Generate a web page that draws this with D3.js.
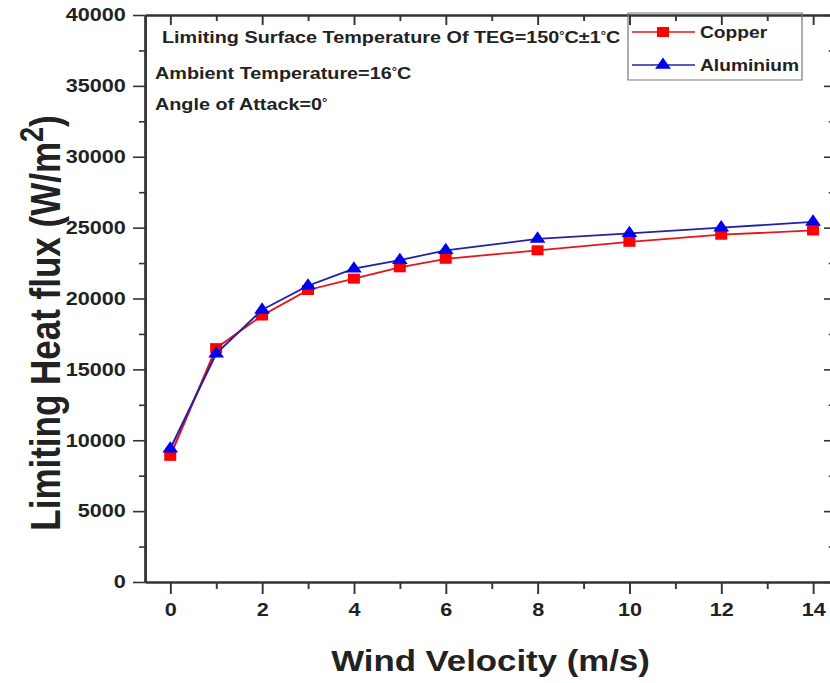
<!DOCTYPE html>
<html lang="en">
<head>
  <meta charset="UTF-8">
  <title>Limiting Heat flux vs Wind Velocity</title>
  <script src="https://d3js.org/d3.v7.min.js"></script>
  <style>
    body {
      margin: 0;
      background: #fff;
    }

    svg text {
      font-family: "Liberation Sans", Arial, sans-serif;
      font-weight: bold;
      fill: #222;
    }

    .axis path,
    .axis line {
      stroke: #333;
    }

    .axis path {
      stroke-width: 2px;
    }

    .axis line {
      stroke-width: 1.6px;
    }
  </style>
</head>
<body>
  <div id="chart"></div>

  <script>
    // data
    const windVelocity = [0, 1, 2, 3, 4, 5, 6, 8, 10, 12, 14];
    const copper = [8900, 16500, 18800, 20600, 21400, 22200, 22800, 23400, 24000, 24500, 24800];
    const aluminium = [9400, 16100, 19200, 20900, 22100, 22700, 23400, 24200, 24600, 25000, 25400];

    const xMajor = [0, 2, 4, 6, 8, 10, 12, 14];
    const xMinor = [1, 3, 5, 7, 9, 11, 13];
    const yMajor = [0, 5000, 10000, 15000, 20000, 25000, 30000, 35000, 40000];
    const yMinor = [2500, 7500, 12500, 17500, 22500, 27500, 32500, 37500];

    const notes = [
      ["Limiting Surface Temperature Of TEG=150", "°", "C±1", "°", "C"],
      ["Ambient Temperature=16", "°", "C"],
      ["Angle of Attack=0", "°"]
    ];

    const series = [
      { name: "Copper", values: copper, line: "#e8161c", fill: "#ff0000", symbol: d3.symbolSquare, size: 100 },
      { name: "Aluminium", values: aluminium, line: "#2222a8", fill: "#0000ee", symbol: d3.symbolTriangle, size: 75 }
    ];

    // the original picture is stretched horizontally, so draw in a narrower
    // coordinate space and let the svg stretch it
    const S = 1.2;
    const width = 830 / S;
    const height = 683;

    const svg = d3.select("#chart")
      .append("svg")
      .attr("width", 830)
      .attr("height", 683)
      .attr("viewBox", `0 0 ${width} ${height}`)
      .attr("preserveAspectRatio", "none");

    const plotLeft = 145 / S, plotRight = 836 / S, plotTop = 15, plotBottom = 582;

    const x = d3.scaleLinear().domain([-0.55, 14.5]).range([plotLeft, plotRight]);
    const y = d3.scaleLinear().domain([0, 40000]).range([plotBottom, plotTop]);

    // axes
    const gx = svg.append("g")
      .attr("class", "axis")
      .attr("transform", `translate(0,${plotBottom})`);
    gx.call(d3.axisBottom(x).tickValues(xMajor).tickSize(12).tickSizeOuter(0).tickPadding(9));
    gx.selectAll("text").style("font-size", "18px");

    svg.append("g")
      .attr("class", "axis")
      .attr("transform", `translate(0,${plotBottom})`)
      .call(d3.axisBottom(x).tickValues(xMinor).tickSize(7).tickSizeOuter(0).tickFormat(""));

    const gy = svg.append("g")
      .attr("class", "axis")
      .attr("transform", `translate(${plotLeft},0)`);
    gy.call(d3.axisLeft(y).tickValues(yMajor).tickSize(10).tickSizeOuter(0).tickPadding(6).tickFormat(d3.format("d")));
    gy.selectAll("text").style("font-size", "18px");

    svg.append("g")
      .attr("class", "axis")
      .attr("transform", `translate(${plotLeft},0)`)
      .call(d3.axisLeft(y).tickValues(yMinor).tickSize(5).tickSizeOuter(0).tickFormat(""));

    // top and right: inward ticks, no labels
    svg.append("g")
      .attr("class", "axis")
      .attr("transform", `translate(0,${plotTop})`)
      .call(d3.axisTop(x).tickValues(xMajor).tickSize(-10).tickSizeOuter(0).tickFormat(""));
    svg.append("g")
      .attr("class", "axis")
      .attr("transform", `translate(0,${plotTop})`)
      .call(d3.axisTop(x).tickValues(xMinor).tickSize(-6).tickSizeOuter(0).tickFormat(""));

    svg.append("g")
      .attr("class", "axis")
      .attr("transform", `translate(${plotRight},0)`)
      .call(d3.axisRight(y).tickValues(yMajor).tickSize(-10).tickSizeOuter(0).tickFormat(""));
    svg.append("g")
      .attr("class", "axis")
      .attr("transform", `translate(${plotRight},0)`)
      .call(d3.axisRight(y).tickValues(yMinor).tickSize(-6).tickSizeOuter(0).tickFormat(""));

    // axis titles
    svg.append("text")
      .attr("x", (plotLeft + plotRight) / 2)
      .attr("y", 671)
      .attr("text-anchor", "middle")
      .style("font-size", "29px")
      .text("Wind Velocity (m/s)");

    const yTitle = svg.append("text")
      .attr("transform", `translate(${60 / S},323) rotate(-90)`)
      .attr("text-anchor", "middle")
      .style("font-size", "35px");
    yTitle.append("tspan").text("Limiting Heat flux (W/m");
    yTitle.append("tspan").attr("dy", -14).style("font-size", "27px").text("2");
    yTitle.append("tspan").attr("dy", 14).text(")");

    // lines and markers
    const line = d3.line()
      .x((d, i) => x(windVelocity[i]))
      .y(d => y(d));

    series.forEach(s => {
      svg.append("path")
        .attr("d", line(s.values))
        .attr("fill", "none")
        .attr("stroke", s.line)
        .attr("stroke-width", 1.8);

      svg.selectAll(null)
        .data(s.values)
        .enter()
        .append("path")
        .attr("transform", (d, i) => `translate(${x(windVelocity[i])},${y(d)})`)
        .attr("d", d3.symbol().type(s.symbol).size(s.size))
        .attr("fill", s.fill);
    });

    // annotations
    const noteX = [162 / S, 155 / S, 155 / S];
    const noteY = [39, 75, 106];
    notes.forEach((parts, k) => {
      const t = svg.append("text")
        .attr("x", noteX[k])
        .attr("y", noteY[k])
        .style("font-size", "16.5px");
      parts.forEach(p => {
        if (p === "°") {
          t.append("tspan").attr("dy", -4).style("font-size", "11px").text(p);
        } else {
          t.append("tspan").attr("dy", t.selectAll("tspan").size() ? 4 : 0).text(p);
        }
      });
    });

    // legend
    const legend = svg.append("g");
    legend.append("rect")
      .attr("x", 628 / S)
      .attr("y", 13)
      .attr("width", 174 / S)
      .attr("height", 67)
      .attr("fill", "none")
      .attr("stroke", "#777")
      .attr("stroke-width", 1);

    const rowY = [32, 65];
    series.forEach((s, i) => {
      legend.append("line")
        .attr("x1", 632 / S)
        .attr("x2", 695 / S)
        .attr("y1", rowY[i])
        .attr("y2", rowY[i])
        .attr("stroke", s.line)
        .attr("stroke-width", 1.6);
      legend.append("path")
        .attr("transform", `translate(${663 / S},${rowY[i]})`)
        .attr("d", d3.symbol().type(s.symbol).size(s.size))
        .attr("fill", s.fill);
      legend.append("text")
        .attr("x", 700 / S)
        .attr("y", rowY[i] + 6.5)
        .style("font-size", "16px")
        .text(s.name);
    });
  </script>
</body>
</html>
